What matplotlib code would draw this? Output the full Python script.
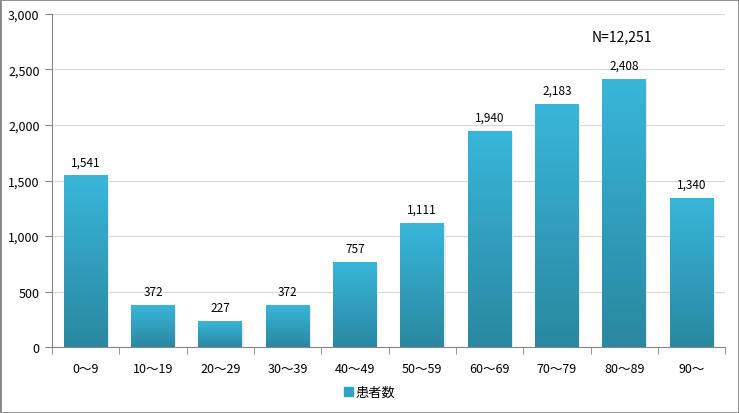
import numpy as np
import matplotlib.pyplot as plt
from matplotlib.patches import Rectangle, Patch
from matplotlib.colors import LinearSegmentedColormap

plt.rcParams['font.family'] = ['Noto Sans CJK JP', 'DejaVu Sans']

categories = ['0〜9', '10〜19', '20〜29', '30〜39', '40〜49', '50〜59',
              '60〜69', '70〜79', '80〜89', '90〜']
patients = [1541, 372, 227, 372, 757, 1111, 1940, 2183, 2408, 1340]
yticks = [0, 500, 1000, 1500, 2000, 2500, 3000]

fig = plt.figure(figsize=(7.39, 4.14), dpi=100)
ax = fig.add_axes([0.0704, 0.159, 0.911, 0.805])

x = np.arange(len(categories))
bars = ax.bar(x, patients, width=0.65, color='none', zorder=3)

# gradient fill for each bar (light top -> dark bottom)
cmap = LinearSegmentedColormap.from_list('g', ['#2A88A0', '#38B6DA'])
grad = np.linspace(0, 1, 256).reshape(-1, 1)
for b in bars:
    x0, w, h = b.get_x(), b.get_width(), b.get_height()
    # soft shadow
    ax.add_patch(Rectangle((x0 + 0.02, 0), w, h - 10, color='#ebebeb', zorder=2, lw=0))
    ax.imshow(grad, extent=(x0, x0 + w, 0, h), origin='lower', cmap=cmap,
              aspect='auto', zorder=3)
    ax.text(x0 + w / 2, h + 70, f'{h:,.0f}', ha='center', va='bottom',
            fontsize=8.5, color='#000000', zorder=4)

ax.set_xlim(-0.5, len(categories) - 0.5)
ax.set_ylim(0, 3000)
ax.set_yticks(yticks)
ax.set_yticklabels([f'{v:,}' for v in yticks], fontsize=9)
ax.set_xticks(x)
ax.set_xticklabels(categories, fontsize=9)
ax.set_xticks(np.arange(len(categories) + 1) - 0.5, minor=True)
ax.tick_params(axis='x', which='major', length=0, pad=11)
ax.tick_params(axis='x', which='minor', length=5, color='#868686')
ax.tick_params(axis='y', length=5, color='#868686', pad=4)

ax.grid(axis='y', color='#d9d9d9', lw=0.9, zorder=0)
ax.set_axisbelow(True)
for s in ['top', 'right']:
    ax.spines[s].set_visible(False)
for s in ['left', 'bottom']:
    ax.spines[s].set_color('#868686')

ax.text(0.842, 0.911, 'N=12,251', transform=fig.transFigure, ha='center',
        va='center', fontsize=10)

leg = fig.legend(handles=[Patch(color='#31A3C2', label='患者数')],
                 loc='center', bbox_to_anchor=(0.5, 0.05), frameon=False,
                 fontsize=9.5, handlelength=0.7, handleheight=0.7, handletextpad=0.2)

fig.patches.append(Rectangle((0, 0), 1, 1, transform=fig.transFigure,
                             fill=False, edgecolor='#878787', lw=2))

fig.savefig('out.png', dpi=100)
